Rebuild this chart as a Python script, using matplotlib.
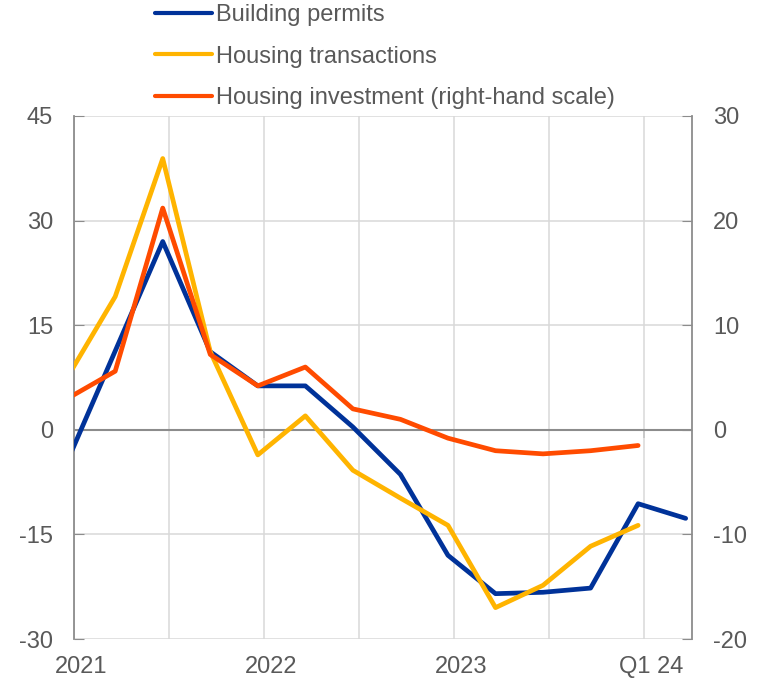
import matplotlib
matplotlib.use("Agg")
import matplotlib.pyplot as plt
from matplotlib.lines import Line2D
from matplotlib.transforms import ScaledTranslation

plt.rcParams['font.family'] = ['Liberation Sans', 'DejaVu Sans']
plt.rcParams['axes.unicode_minus'] = False

# quarterly data, Q1 2021 - Q1 2024
quarters = ["Q1 21", "Q2 21", "Q3 21", "Q4 21", "Q1 22", "Q2 22", "Q3 22",
            "Q4 22", "Q1 23", "Q2 23", "Q3 23", "Q4 23", "Q1 24", "Q2 24"]
building_permits = [-4.4, 11.3, 27.0, 11.2, 6.3, 6.3, 0.4, -6.4, -18.0,
                    -23.5, -23.3, -22.7, -10.6, -12.7]
housing_transactions = [7.6, 19.1, 38.9, 11.2, -3.6, 2.0, -5.8, -9.8, -13.7,
                        -25.5, -22.3, -16.7, -13.7]
housing_investment = [3.0, 5.6, 21.2, 7.2, 4.2, 6.0, 2.0, 1.0, -0.8,
                      -2.0, -2.3, -2.0, -1.5]

tick_labels = ["2021", "2022", "2023", "Q1 24"]
series_names = ["Building permits", "Housing transactions",
                "Housing investment (right-hand scale)"]

BLUE = "#003299"
YELLOW = "#FFB400"
RED = "#FF4B00"
TXT = "#595959"
GRID = "#d9d9d9"
AXC = "#8c8c8c"
FS = 17
LW = 3.4

# months since Jan 2021 (points sit a little before each quarter start)
xpos = [3 * i - 0.4 for i in range(len(quarters))]

fig = plt.figure(figsize=(7.61, 6.79), dpi=100)
ax = fig.add_axes([74 / 761, 1 - 639 / 679, (692 - 74) / 761, (639 - 116) / 679])
ax2 = ax.twinx()

ax.set_xlim(0, 39)
ax.set_ylim(-30, 45)
ax2.set_ylim(-20, 30)
ax.set_yticks(range(-30, 46, 15))
ax2.set_yticks(range(-20, 31, 10))

ax.set_xticks(range(6, 37, 6), minor=True)
ax.set_xticks([0, 12, 24, 36])
ax.set_xticklabels(tick_labels)
ax.grid(True, which='both', color=GRID, lw=1.1)
ax.set_axisbelow(True)
ax.axhline(0, color=AXC, lw=1.5, zorder=1)

style = dict(lw=LW, solid_capstyle='round', solid_joinstyle='round', zorder=3)
ax.plot(xpos[:len(building_permits)], building_permits, color=BLUE, **style)
ax.plot(xpos[:len(housing_transactions)], housing_transactions, color=YELLOW, **style)
ax2.plot(xpos[:len(housing_investment)], housing_investment, color=RED, **style)

for s in ['top', 'bottom']:
    ax.spines[s].set_visible(False)
    ax2.spines[s].set_visible(False)
ax2.spines['left'].set_visible(False)
ax.spines['right'].set_visible(False)
ax.spines['left'].set_color(AXC)
ax2.spines['right'].set_color(AXC)
ax.spines['left'].set_linewidth(1.3)
ax2.spines['right'].set_linewidth(1.3)

ax.tick_params(axis='y', direction='in', length=7, color=AXC, labelsize=FS,
               labelcolor=TXT, pad=15)
ax2.tick_params(axis='y', direction='in', length=7, color=AXC, labelsize=FS,
                labelcolor=TXT, pad=15)
ax.tick_params(axis='x', which='both', length=0, labelsize=FS, labelcolor=TXT, pad=12)

off = ScaledTranslation(7 / 100, 0, fig.dpi_scale_trans)
for lab in ax.get_xticklabels():
    lab.set_transform(lab.get_transform() + off)

# small yearly ticks hanging from the zero line
sec = ax.secondary_xaxis(30 / 75)
sec.set_xticks([12, 24, 36])
sec.set_xticklabels([])
sec.tick_params(axis='x', direction='out', length=6, color=AXC, width=1.3)
sec.spines['bottom'].set_visible(False)

handles = [Line2D([], [], color=c, lw=3, solid_capstyle='round')
           for c in (BLUE, YELLOW, RED)]
fig.legend(handles, series_names,
           loc='upper left', bbox_to_anchor=(155 / 761, 1 - 4 / 679),
           frameon=False, fontsize=FS, labelcolor=TXT, handlelength=2.4,
           handletextpad=0.2, labelspacing=0.83, borderpad=0, borderaxespad=0)

fig.savefig("out.png", dpi=100)
